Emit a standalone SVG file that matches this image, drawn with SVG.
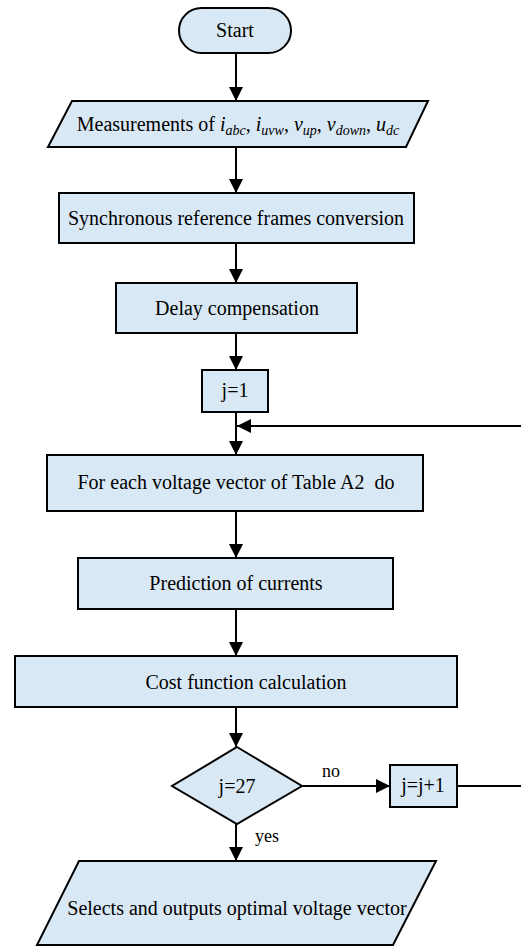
<svg xmlns="http://www.w3.org/2000/svg" width="521" height="947" viewBox="0 0 521 947">
<style>
.n{fill:#d9e8f5;stroke:#000;stroke-width:2}
text{font-family:'Liberation Serif','Times New Roman',serif;font-size:20px;fill:#000;text-anchor:middle}
.c{stroke:#000;stroke-width:2;fill:none}
.it{font-style:italic}
.sb{font-style:italic;font-size:14px}
.lb{font-size:18px}
</style>
<defs>
<marker id="ah" markerUnits="userSpaceOnUse" markerWidth="14" markerHeight="14" viewBox="0 0 14 14" refX="14" refY="7" orient="auto">
<path d="M0,0 L14,7 L0,14 Z" fill="#000"/>
</marker>
</defs>
<g id="connectors">
<line class="c" x1="236" y1="53" x2="236" y2="101" marker-end="url(#ah)"/>
<line class="c" x1="236" y1="147" x2="236" y2="193" marker-end="url(#ah)"/>
<line class="c" x1="236" y1="243" x2="236" y2="283" marker-end="url(#ah)"/>
<line class="c" x1="236" y1="333" x2="236" y2="370" marker-end="url(#ah)"/>
<line class="c" x1="236" y1="412" x2="236" y2="455" marker-end="url(#ah)"/>
<line class="c" x1="521" y1="426" x2="237" y2="426" marker-end="url(#ah)"/>
<line class="c" x1="236" y1="511" x2="236" y2="558" marker-end="url(#ah)"/>
<line class="c" x1="236" y1="609" x2="236" y2="656" marker-end="url(#ah)"/>
<line class="c" x1="236" y1="707" x2="236" y2="747" marker-end="url(#ah)"/>
<line class="c" x1="302" y1="786" x2="390" y2="786" marker-end="url(#ah)"/>
<line class="c" x1="457" y1="786" x2="521" y2="786"/>
<line class="c" x1="236" y1="824" x2="236" y2="861" marker-end="url(#ah)"/>
<text class="lb" x="331" y="777">no</text>
<text class="lb" x="255" y="842" style="text-anchor:start">yes</text>
</g>
<g id="start">
<rect class="n" x="179" y="8" width="112" height="45" rx="22.5"/>
<text x="235" y="37">Start</text>
</g>
<g id="measure">
<polygon class="n" points="72,101 428,101 406,147 48,147"/>
<text x="238" y="131">Measurements of <tspan class="it">i</tspan><tspan class="sb" dy="4">abc</tspan><tspan dy="-4">, </tspan><tspan class="it">i</tspan><tspan class="sb" dy="4">uvw</tspan><tspan dy="-4">, </tspan><tspan class="it">v</tspan><tspan class="sb" dy="4">up</tspan><tspan dy="-4">, </tspan><tspan class="it">v</tspan><tspan class="sb" dy="4">down</tspan><tspan dy="-4">, </tspan><tspan class="it">u</tspan><tspan class="sb" dy="4">dc</tspan></text>
</g>
<g id="sync">
<rect class="n" x="59" y="193" width="355" height="50"/>
<text x="236" y="225">Synchronous reference frames conversion</text>
</g>
<g id="delay">
<rect class="n" x="116" y="283" width="241" height="50"/>
<text x="237" y="315">Delay compensation</text>
</g>
<g id="j1">
<rect class="n" x="202" y="370" width="66" height="42"/>
<text x="235" y="397">j=1</text>
</g>
<g id="foreach">
<rect class="n" x="47" y="455" width="376" height="56"/>
<text x="236" y="489" xml:space="preserve">For each voltage vector of Table A2  do</text>
</g>
<g id="predict">
<rect class="n" x="78" y="558" width="315" height="51"/>
<text x="236" y="590">Prediction of currents</text>
</g>
<g id="cost">
<rect class="n" x="15" y="656" width="442" height="51"/>
<text x="246" y="689">Cost function calculation</text>
</g>
<g id="decision">
<polygon class="n" points="237,747 302,786 237,824 172,786"/>
<text x="237" y="793">j=27</text>
</g>
<g id="jinc">
<rect class="n" x="390" y="765" width="67" height="42"/>
<text x="423" y="792">j=j+1</text>
</g>
<g id="output">
<polygon class="n" points="79,861 436,861 393,945 37,945"/>
<text x="237" y="915">Selects and outputs optimal voltage vector</text>
</g>
</svg>
